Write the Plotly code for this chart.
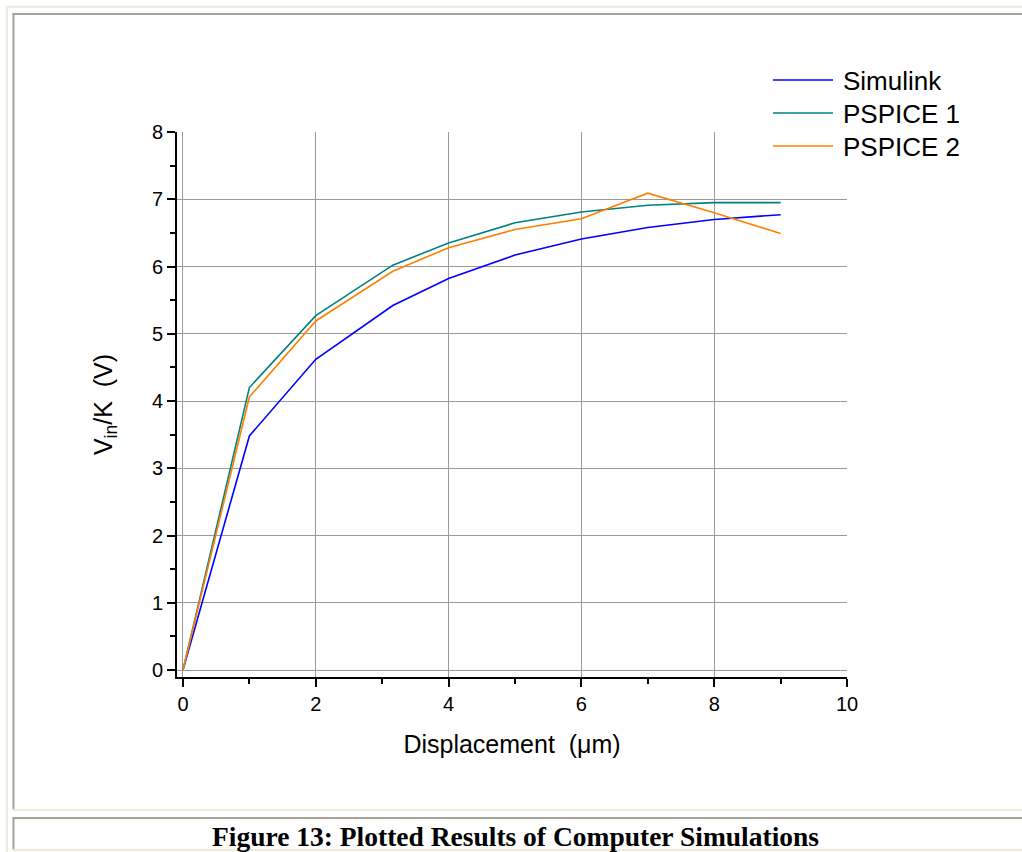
import plotly.graph_objects as go

# ---- data ----
displacement = [0, 1, 2, 3.16, 4, 5, 6, 7, 8, 9]
simulink = [0, 3.48, 4.62, 5.42, 5.82, 6.17, 6.41, 6.58, 6.70, 6.77]
pspice1 = [0, 4.20, 5.27, 6.02, 6.35, 6.65, 6.81, 6.91, 6.95, 6.95]
pspice2 = [0, 4.06, 5.19, 5.93, 6.28, 6.55, 6.71, 7.09, 6.80, 6.49]
series_names = ["Simulink", "PSPICE 1", "PSPICE 2"]
series_colors = ["#0000FF", "#008080", "#FF8000"]
x_ticks = [0, 2, 4, 6, 8, 10]
y_ticks = [0, 1, 2, 3, 4, 5, 6, 7, 8]
caption = "Figure 13: Plotted Results of Computer Simulations"

W, H = 1022, 852
L, R, T, B = 177, 847, 132, 677  # plot area in pixels


def px(xp):
    return (xp - L) / (R - L)


def py(yp):
    return (B - yp) / (B - T)


fig = go.Figure()
for name, vals, col in zip(series_names, [simulink, pspice1, pspice2], series_colors):
    fig.add_trace(go.Scatter(x=displacement, y=vals, mode="lines", name=name,
                             line=dict(color=col, width=1.6), showlegend=False))

font = "Liberation Sans, Arial, sans-serif"
shapes = []
annotations = []

# manual legend (matches the long legend lines of the reference)
leg_y = [80, 113, 146]
for name, col, yy in zip(series_names, series_colors, leg_y):
    shapes.append(dict(type="line", xref="paper", yref="paper",
                       x0=px(773), x1=px(833), y0=py(yy), y1=py(yy),
                       line=dict(color=col, width=1.6)))
    annotations.append(dict(text=name, xref="paper", yref="paper", x=px(841), y=py(yy + 1),
                            xanchor="left", yanchor="middle", showarrow=False,
                            font=dict(family=font, size=26, color="black")))

# page borders (html table look)
cream = "#EEEBD9"
gray = "#A6A496"


def hline(y, x0, x1, col, w=2):
    shapes.append(dict(type="line", xref="paper", yref="paper", x0=px(x0), x1=px(x1),
                       y0=py(y), y1=py(y), line=dict(color=col, width=w), layer="below"))


def vline(x, y0, y1, col, w=2):
    shapes.append(dict(type="line", xref="paper", yref="paper", x0=px(x), x1=px(x),
                       y0=py(y0), y1=py(y1), line=dict(color=col, width=w), layer="below"))


hline(6.7, 6, W, cream)
vline(6.9, 6, H, cream)
hline(14, 12.5, W, gray)
vline(13.5, 13, 810, gray)
hline(810, 12.5, W, cream)
hline(818, 12.5, W, gray)
vline(13.5, 817, 850, gray)
hline(850, 12.5, W, cream)

annotations.append(dict(text="<b>" + caption + "</b>", xref="paper", yref="paper",
                        x=px(515), y=py(836), xanchor="center", yanchor="middle",
                        showarrow=False,
                        font=dict(family="Liberation Serif, Times New Roman, serif",
                                  size=27.5, color="black")))

fig.update_layout(
    width=W, height=H,
    margin=dict(l=L, r=W - R, t=T, b=H - B, pad=0),
    paper_bgcolor="white", plot_bgcolor="white",
    shapes=shapes, annotations=annotations,
    showlegend=False,
    xaxis=dict(range=[-0.09, 10], tickvals=x_ticks, ticktext=[str(v) for v in x_ticks],
               showgrid=True, gridcolor="#9a9a9a", gridwidth=1,
               showline=True, linecolor="black", linewidth=2,
               ticks="outside", ticklen=8, tickwidth=2, tickcolor="black",
               minor=dict(dtick=1, tick0=0, ticks="outside", ticklen=5, tickwidth=2,
                          tickcolor="black", showgrid=False),
               zeroline=False,
               tickfont=dict(family=font, size=20, color="black"),
               title=dict(text="Displacement  (\u03bcm)", standoff=21,
                          font=dict(family=font, size=25, color="black"))),
    yaxis=dict(range=[-0.104, 8], tickvals=y_ticks, ticktext=[str(v) for v in y_ticks],
               showgrid=True, gridcolor="#9a9a9a", gridwidth=1,
               showline=True, linecolor="black", linewidth=2,
               ticks="outside", ticklen=8, tickwidth=2, tickcolor="black",
               minor=dict(dtick=0.5, tick0=0, ticks="outside", ticklen=5, tickwidth=2,
                          tickcolor="black", showgrid=False),
               zeroline=False,
               tickfont=dict(family=font, size=20, color="black"),
               title=dict(text="V<sub>in</sub>/K  (V)", standoff=32,
                          font=dict(family=font, size=25, color="black"))),
)

fig.write_html("out.html", config={"displayModeBar": False},
               post_script="document.body.style.margin='0';")
